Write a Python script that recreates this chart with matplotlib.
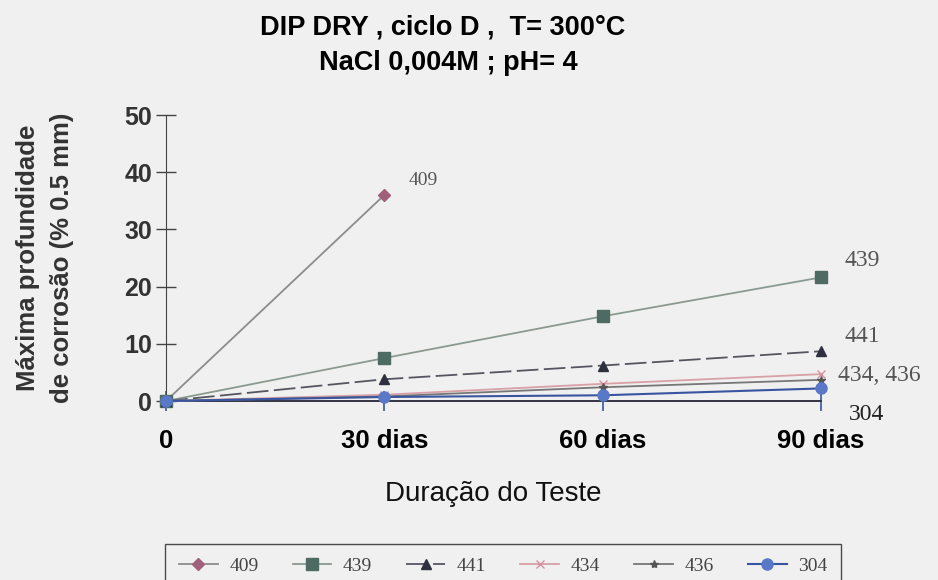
import numpy as np
import matplotlib
matplotlib.use("Agg")
import matplotlib.pyplot as plt

# data
dias = [0, 30, 60, 90]
tick_labels = ["0", "30 dias", "60 dias", "90 dias"]

s409 = [0, 36.0]
s439 = [0, 7.5, 14.8, 21.6]
s441 = [0, 3.8, 6.2, 8.7]
s434 = [0, 1.1, 3.0, 4.7]
s436 = [0, 0.8, 2.4, 3.7]
s304 = [0, 0.7, 1.0, 2.2]

bg = "#f0f0f0"
plt.rcParams["font.family"] = ["Liberation Sans", "DejaVu Sans"]

fig = plt.figure(figsize=(9.38, 5.8), dpi=100, facecolor=bg)
ax = fig.add_axes([0.177, 0.3086, 0.698, 0.4931], facecolor=bg)

# series
l409, = ax.plot(dias[:2], s409, color="#8c8c8c", lw=1.3, marker="D",
                ms=6, mfc="#a0607a", mec="#a0607a", clip_on=False, zorder=3)
l439, = ax.plot(dias, s439, color="#8a9a90", lw=1.3, marker="s",
                ms=8, mfc="#4d6b62", mec="#4d6b62", clip_on=False, zorder=3)
l441, = ax.plot(dias, s441, color="#555560", lw=1.3, ls=(0, (12, 3)),
                marker="^", ms=7, mfc="#2e3040", mec="#2e3040",
                clip_on=False, zorder=3)
l434, = ax.plot(dias, s434, color="#d8a0a8", lw=1.3, marker="x", ms=6,
                mec="#d890a0", clip_on=False, zorder=3)
l436, = ax.plot(dias, s436, color="#777777", lw=1.3, marker="*", ms=6,
                mfc="#555555", mec="#555555", clip_on=False, zorder=3)
l304, = ax.plot(dias, s304, color="#3a55a0", lw=1.5, marker="o", ms=8,
                mfc="#5a78c8", mec="#5a78c8", clip_on=False, zorder=4)

# labels at end of lines
lab_font = dict(family=["Liberation Serif", "DejaVu Serif"], color="#555555")
ax.text(33.3, 38.5, "409", fontsize=14, va="center", **lab_font)
ax.text(93.3, 24.5, "439", fontsize=17, va="center", **lab_font)
ax.text(93.3, 11.2, "441", fontsize=17, va="center", **lab_font)
ax.text(92.4, 4.5, "434, 436", fontsize=17, va="center", **lab_font)
ax.text(93.8, -2.3, "304", fontsize=17, va="center",
        family=["Liberation Serif", "DejaVu Serif"], color="#222222")

ax.set_xlim(0, 90)
ax.set_ylim(0, 50)
ax.set_xticks(dias)
ax.set_xticklabels(tick_labels, fontsize=18.5, fontweight="bold")
ax.set_yticks(range(0, 51, 10))
ax.tick_params(axis="y", direction="inout", length=14, width=1.0,
               color="#444444", labelsize=18, pad=3)
ax.tick_params(axis="x", direction="inout", length=14, width=1.2,
               color="#3a55a0", pad=13)
for lab in ax.get_yticklabels():
    lab.set_fontweight("bold")
    lab.set_color("#333333")

for side in ["top", "right"]:
    ax.spines[side].set_visible(False)
ax.spines["left"].set_color("#444444")
ax.spines["bottom"].set_color("#333344")
ax.spines["bottom"].set_linewidth(1.4)

ax.set_ylabel("Máxima profundidade\nde corrosão (% 0.5 mm)", fontsize=18.5,
              fontweight="bold", color="#333333", labelpad=36,
              linespacing=1.55)
ax.set_xlabel("Duração do Teste", fontsize=20, labelpad=20, color="#111111")

fig.text(0.472, 0.952, "DIP DRY , ciclo D ,  T= 300°C", ha="center",
         va="center", fontsize=19.5, fontweight="bold")
fig.text(0.478, 0.891, "NaCl 0,004M ; pH= 4", ha="center", va="center",
         fontsize=19.5, fontweight="bold")

leg = fig.legend([l409, l439, l441, l434, l436, l304],
                 ["409", "439", "441", "434", "436", "304"],
                 ncol=6, loc="upper left", bbox_to_anchor=(0.176, 0.062),
                 bbox_transform=fig.transFigure, frameon=True, fancybox=False,
                 prop={"family": ["Liberation Serif", "DejaVu Serif"],
                       "size": 14},
                 handlelength=2.0, columnspacing=1.75, handletextpad=0.6,
                 borderpad=0.7, borderaxespad=0)
leg.get_frame().set_edgecolor("#222222")
leg.get_frame().set_facecolor(bg)
leg.get_frame().set_linewidth(1.0)
for t in leg.get_texts():
    t.set_color("#444444")

fig.savefig("out.png", dpi=100, facecolor=bg)
